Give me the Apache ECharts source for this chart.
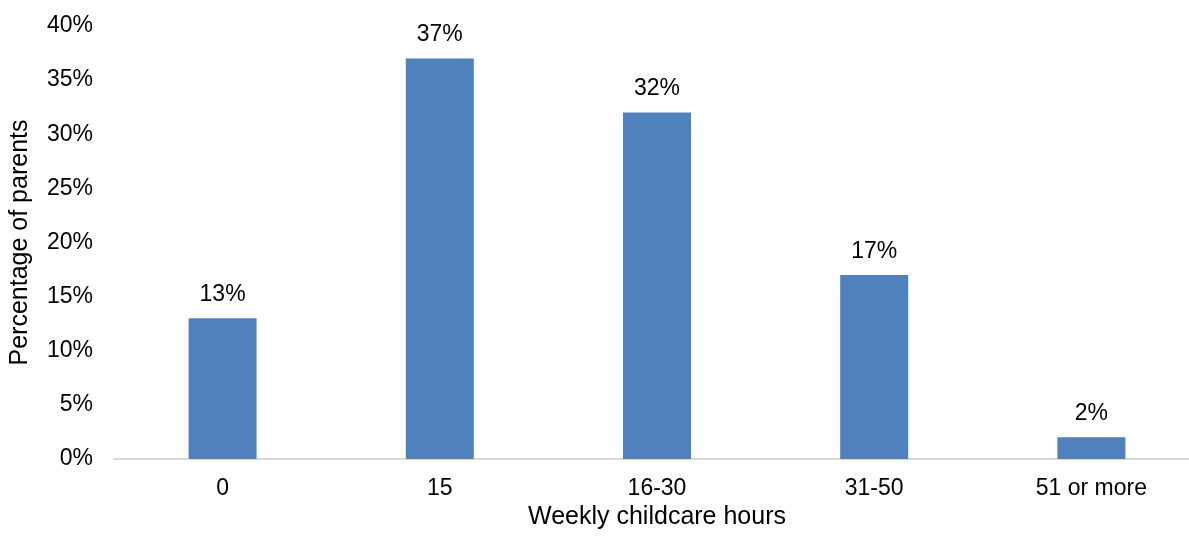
<!DOCTYPE html>
<html>
<head>
<meta charset="utf-8">
<script src="https://cdn.jsdelivr.net/npm/echarts@6/dist/echarts.min.js"></script>
<style>
  html, body { margin: 0; padding: 0; background: #fff; }
  #chart { width: 1189px; height: 537px; }
</style>
</head>
<body>
<div id="chart"></div>
<script>
// Weekly childcare hours used by parents
const categories = ['0', '15', '16-30', '31-50', '51 or more'];
const shareOfParents = [13, 37, 32, 17, 2];
const yTicks = [0, 5, 10, 15, 20, 25, 30, 35, 40];

const font = 'Liberation Sans, Arial, sans-serif';
const chart = echarts.init(document.getElementById('chart'), null, { renderer: 'canvas' });

chart.setOption({
  animation: false,
  backgroundColor: '#ffffff',
  grid: { left: 114, right: -11, top: 26, bottom: 78, containLabel: false, outerBoundsMode: 'none' },
  xAxis: {
    type: 'category',
    data: categories,
    name: 'Weekly childcare hours',
    nameLocation: 'middle',
    nameGap: 41,
    nameTextStyle: { fontFamily: font, fontSize: 25, color: '#000' },
    axisLine: { lineStyle: { color: '#d9d9d9', width: 2 } },
    axisTick: { show: false },
    axisLabel: { margin: 18, fontFamily: font, fontSize: 23, color: '#000' }
  },
  yAxis: {
    type: 'value',
    min: yTicks[0],
    max: yTicks[yTicks.length - 1],
    interval: yTicks[1] - yTicks[0],
    name: 'Percentage of parents',
    nameLocation: 'middle',
    nameGap: 81,
    nameTextStyle: { fontFamily: font, fontSize: 25, color: '#000' },
    axisLine: { show: false },
    axisTick: { show: false },
    splitLine: { show: false },
    axisLabel: { margin: 21, fontFamily: font, fontSize: 23, color: '#000', padding: [6, 0, 0, 0], formatter: '{value}%' }
  },
  series: [{
    type: 'bar',
    data: shareOfParents,
    barWidth: 68,
    itemStyle: { color: '#4f81bd' },
    label: {
      show: true,
      position: 'top',
      distance: 12,
      fontFamily: font,
      fontSize: 23,
      color: '#000',
      formatter: '{c}%'
    }
  }]
});
</script>
</body>
</html>
